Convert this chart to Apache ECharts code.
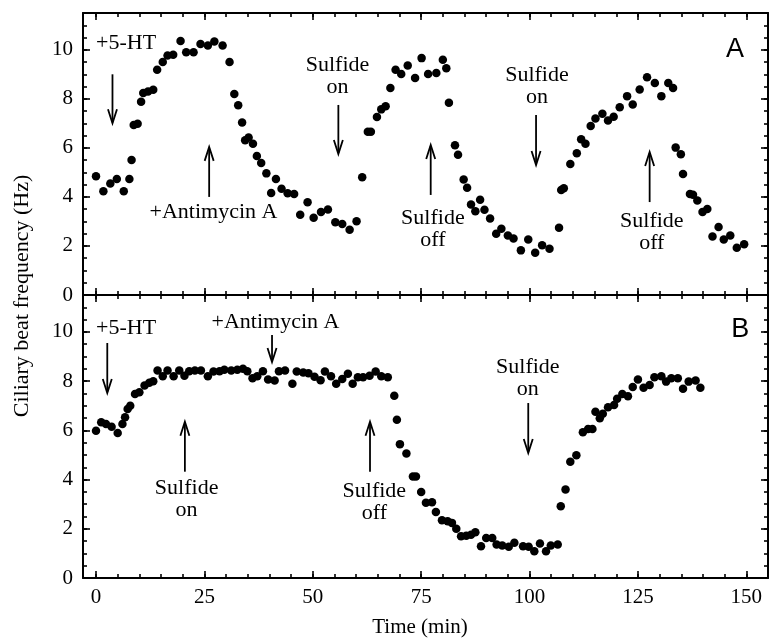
<!DOCTYPE html>
<html>
<head>
<meta charset="utf-8">
<script src="https://cdn.jsdelivr.net/npm/echarts@6/dist/echarts.min.js"></script>
<style>
html,body{margin:0;padding:0;background:#fff;}
#chart{width:776px;height:640px;}
</style>
</head>
<body>
<div id="chart"></div>
<script>
// ---- Data ----
const timeA = [0,1.7,3.3,4.8,6.4,7.7,8.2,8.7,9.6,10.4,10.9,12.0,13.2,14.1,15.4,16.5,17.8,19.5,20.8,22.5,24.1,25.8,27.3,29.2,30.8,31.9,32.8,33.7,34.4,35.2,36.2,37.1,38.1,39.3,40.4,41.5,42.8,44.2,45.7,47.1,48.8,50.2,51.9,53.5,55.2,56.8,58.5,60.1,61.4,62.7,63.4,64.8,65.8,66.8,67.9,69.1,70.4,71.9,73.6,75.1,76.6,78.5,80.0,80.8,81.4,82.8,83.5,84.8,85.6,86.5,87.5,88.6,89.6,90.9,92.3,93.5,95.0,96.3,98.0,99.7,101.3,102.9,104.6,106.8,107.3,107.9,109.4,110.9,111.9,112.9,114.1,115.2,116.8,118.1,119.4,120.8,122.5,123.8,125.4,127.1,128.9,130.4,132.0,133.1,133.7,134.9,135.4,137.0,137.7,138.7,139.9,141.0,142.2,143.6,144.8,146.3,147.8,149.5];
const freqA = [4.84,4.23,4.55,4.73,4.23,4.73,5.51,6.93,6.98,7.88,8.24,8.30,8.37,9.19,9.50,9.77,9.80,10.36,9.90,9.90,10.24,10.17,10.34,10.17,9.50,8.20,7.74,7.03,6.31,6.42,6.17,5.67,5.38,4.96,4.16,4.73,4.33,4.15,4.12,3.27,3.78,3.15,3.38,3.49,2.97,2.90,2.66,3.01,4.80,6.66,6.66,7.26,7.57,7.70,8.44,9.19,9.01,9.36,8.85,9.66,9.01,9.05,9.59,9.25,7.84,6.11,5.72,4.71,4.37,3.69,3.42,3.88,3.48,3.12,2.50,2.70,2.43,2.30,1.82,2.26,1.72,2.03,1.89,2.74,4.28,4.35,5.34,5.78,6.35,6.17,6.89,7.20,7.39,7.12,7.27,7.66,8.11,7.77,8.38,8.88,8.65,8.11,8.65,8.44,6.01,5.74,4.93,4.12,4.09,3.85,3.38,3.51,2.39,2.77,2.26,2.43,1.93,2.07];

const timeB = [0,1.2,2.3,3.6,5.0,6.1,6.7,7.3,7.9,9.0,10.0,11.2,12.3,13.2,14.2,15.4,16.5,17.9,19.2,20.4,21.5,22.8,24.2,25.8,27.1,28.5,29.6,31.2,32.6,33.9,34.9,36.1,37.2,38.5,39.7,41.2,42.2,43.6,45.3,46.3,47.8,49.0,50.4,51.8,52.8,54.2,55.4,56.8,58.1,59.2,60.4,61.6,63.1,64.5,65.8,67.3,68.8,69.4,70.1,71.6,73.1,73.8,75.0,76.1,77.5,78.4,79.8,81.1,82.1,83.1,84.2,85.4,86.5,87.5,88.8,90.0,91.4,92.4,93.7,95.2,96.5,98.5,99.8,101.1,102.4,103.8,104.9,106.5,107.2,108.3,109.4,110.8,112.3,113.5,114.5,115.2,116.2,116.9,118.1,119.5,120.2,121.4,122.7,123.8,125.0,126.3,127.7,128.8,130.4,131.5,132.7,134.2,135.4,136.7,138.3,139.4];
const freqB = [5.98,6.33,6.26,6.15,5.89,6.26,6.53,6.87,7.00,7.48,7.55,7.82,7.93,8.00,8.43,8.20,8.43,8.20,8.43,8.22,8.40,8.43,8.43,8.20,8.39,8.40,8.46,8.43,8.46,8.50,8.40,8.12,8.20,8.40,8.07,8.03,8.40,8.43,7.89,8.39,8.35,8.32,8.18,8.04,8.39,8.20,7.89,8.09,8.30,7.89,8.16,8.16,8.22,8.39,8.20,8.16,7.41,6.43,5.44,5.06,4.12,4.12,3.49,3.06,3.08,2.68,2.35,2.31,2.24,2.00,1.70,1.72,1.76,1.86,1.29,1.63,1.63,1.36,1.32,1.27,1.43,1.29,1.27,1.09,1.40,1.09,1.32,1.36,2.92,3.60,4.72,4.99,5.92,6.05,6.05,6.76,6.49,6.67,6.94,7.03,7.28,7.48,7.39,7.76,8.07,7.73,7.84,8.16,8.20,7.98,8.12,8.12,7.69,7.98,8.03,7.73];

const xTicks = [0,25,50,75,100,125,150];
const xMinorTicks = [0,5,10,15,20,25,30,35,40,45,50,55,60,65,70,75,80,85,90,95,100,105,110,115,120,125,130,135,140,145,150,155];
const yTicks = [0,2,4,6,8,10];
const yMinorTicks = [0,0.5,1,1.5,2,2.5,3,3.5,4,4.5,5,5.5,6,6.5,7,7.5,8,8.5,9,9.5,10,10.5,11,11.5];

// annotations in data coordinates: [t, v, text, align]
const textsA = [
  [0.0, 10.28, '+5-HT', 'left'],
  [27.1, 3.38, '+Antimycin A', 'center'],
  [55.7, 8.93, 'Sulfide\non', 'center'],
  [77.7, 2.67, 'Sulfide\noff', 'center'],
  [101.7, 8.5, 'Sulfide\non', 'center'],
  [128.2, 2.57, 'Sulfide\noff', 'center']
];
const arrowsA = [ // [t, vFrom, vTo]
  [3.8, 9.0, 7.0],
  [26.1, 4.0, 6.04],
  [55.9, 7.75, 5.75],
  [77.2, 4.08, 6.12],
  [101.5, 7.34, 5.30],
  [127.7, 3.79, 5.83]
];
const textsB = [
  [0.0, 10.16, '+5-HT', 'left'],
  [41.4, 10.4, '+Antimycin A', 'center'],
  [20.9, 3.21, 'Sulfide\non', 'center'],
  [64.2, 3.09, 'Sulfide\noff', 'center'],
  [99.6, 8.13, 'Sulfide\non', 'center']
];
const arrowsB = [
  [2.6, 9.55, 7.52],
  [40.6, 9.87, 8.78],
  [20.5, 4.32, 6.35],
  [63.2, 4.32, 6.35],
  [99.7, 7.11, 5.08]
];

// ---- Chart ----
const SERIF = '"Liberation Serif","Times New Roman",serif';
const chart = echarts.init(document.getElementById('chart'), null, {renderer:'canvas'});

function xAxisSet(grid, showLabels) {
  const base = {type:'value', gridIndex:grid, min:-3, max:155, splitLine:{show:false}};
  const line = {show:true, onZero:false, lineStyle:{color:'#000', width:2}};
  return [
    Object.assign({}, base, {position:'bottom', axisLine:line,
      axisTick:{show:true, inside:true, length:7, customValues:xTicks, lineStyle:{color:'#000', width:1.6}},
      axisLabel:{show:showLabels, customValues:xTicks, color:'#000', fontFamily:SERIF, fontSize:21, margin:9}}),
    Object.assign({}, base, {position:'bottom', axisLine:{show:false, onZero:false},
      axisTick:{show:true, inside:true, length:4, customValues:xMinorTicks, lineStyle:{color:'#000', width:1.6}},
      axisLabel:{show:false}}),
    Object.assign({}, base, {position:'top', axisLine:line,
      axisTick:{show:true, inside:true, length:7, customValues:xTicks, lineStyle:{color:'#000', width:1.6}},
      axisLabel:{show:false}}),
    Object.assign({}, base, {position:'top', axisLine:{show:false, onZero:false},
      axisTick:{show:true, inside:true, length:4, customValues:xMinorTicks, lineStyle:{color:'#000', width:1.6}},
      axisLabel:{show:false}})
  ];
}
function yAxisSet(grid) {
  const base = {type:'value', gridIndex:grid, min:0, max:11.5, splitLine:{show:false}};
  const line = {show:true, onZero:false, lineStyle:{color:'#000', width:2}};
  return [
    Object.assign({}, base, {position:'left', axisLine:line,
      axisTick:{show:true, inside:true, length:7, customValues:yTicks, lineStyle:{color:'#000', width:1.6}},
      axisLabel:{show:true, customValues:yTicks, color:'#000', fontFamily:SERIF, fontSize:21, margin:10}}),
    Object.assign({}, base, {position:'left', axisLine:{show:false, onZero:false},
      axisTick:{show:true, inside:true, length:4, customValues:yMinorTicks, lineStyle:{color:'#000', width:1.6}},
      axisLabel:{show:false}}),
    Object.assign({}, base, {position:'right', axisLine:line,
      axisTick:{show:true, inside:true, length:7, customValues:yTicks, lineStyle:{color:'#000', width:1.6}},
      axisLabel:{show:false}}),
    Object.assign({}, base, {position:'right', axisLine:{show:false, onZero:false},
      axisTick:{show:true, inside:true, length:4, customValues:yMinorTicks, lineStyle:{color:'#000', width:1.6}},
      axisLabel:{show:false}})
  ];
}

const option = {
  animation:false,
  backgroundColor:'#fff',
  grid:[
    {left:83, right:8, top:13, height:282},
    {left:83, right:8, top:295, height:283}
  ],
  xAxis: xAxisSet(0, false).concat(xAxisSet(1, true)),
  yAxis: yAxisSet(0).concat(yAxisSet(1)),
  series:[
    {type:'scatter', xAxisIndex:0, yAxisIndex:0, symbol:'circle', symbolSize:8.5,
     itemStyle:{color:'#000', opacity:1}, data: timeA.map((t,i)=>[t, freqA[i]])},
    {type:'scatter', xAxisIndex:4, yAxisIndex:4, symbol:'circle', symbolSize:8.5,
     itemStyle:{color:'#000', opacity:1}, data: timeB.map((t,i)=>[t, freqB[i]])}
  ]
};
chart.setOption(option);

// ---- Annotations placed through the axes ----
const graphics = [];
function addTexts(list, xi, yi) {
  list.forEach(([t, v, txt, align]) => {
    const p = chart.convertToPixel({xAxisIndex:xi, yAxisIndex:yi}, [t, v]);
    graphics.push({type:'text', z:10, style:{text:txt, x:p[0], y:p[1], fill:'#000',
      fontFamily:SERIF, fontSize:22, lineHeight:22, align:align, verticalAlign:'middle'}});
  });
}
function addArrows(list, xi, yi) {
  list.forEach(([t, v0, v1]) => {
    const a = chart.convertToPixel({xAxisIndex:xi, yAxisIndex:yi}, [t, v0]);
    const b = chart.convertToPixel({xAxisIndex:xi, yAxisIndex:yi}, [t, v1]);
    const dir = b[1] > a[1] ? 1 : -1; // 1 = pointing down
    graphics.push({type:'polyline', z:10, shape:{points:[[a[0], a[1]], [b[0], b[1] - dir*1]]},
      style:{stroke:'#000', lineWidth:1.8, fill:null}});
    graphics.push({type:'polyline', z:10, shape:{points:[[b[0]-4.5, b[1]-dir*14], [b[0], b[1]], [b[0]+4.5, b[1]-dir*14]]},
      style:{stroke:'#000', lineWidth:1.8, fill:null, lineJoin:'miter'}});
  });
}
addTexts(textsA, 0, 0);
addArrows(arrowsA, 0, 0);
addTexts(textsB, 4, 4);
addArrows(arrowsB, 4, 4);

const pA = chart.convertToPixel({xAxisIndex:0, yAxisIndex:0}, [147.4, 10.03]);
const pB = chart.convertToPixel({xAxisIndex:4, yAxisIndex:4}, [148.6, 10.08]);
graphics.push({type:'text', z:10, style:{text:'A', x:pA[0], y:pA[1], fill:'#000', fontFamily:'"Liberation Sans",Arial,sans-serif', fontSize:27, align:'center', verticalAlign:'middle'}});
graphics.push({type:'text', z:10, style:{text:'B', x:pB[0], y:pB[1], fill:'#000', fontFamily:'"Liberation Sans",Arial,sans-serif', fontSize:27, align:'center', verticalAlign:'middle'}});

// axis titles
graphics.push({type:'text', z:10, x:22, y:296, rotation:Math.PI/2,
  style:{text:'Ciliary beat frequency (Hz)', x:0, y:0, fill:'#000', fontFamily:SERIF, fontSize:22, align:'center', verticalAlign:'middle'}});
graphics.push({type:'text', z:10, style:{text:'Time (min)', x:420, y:627, fill:'#000', fontFamily:SERIF, fontSize:21, align:'center', verticalAlign:'middle'}});

chart.setOption({graphic: graphics});
</script>
</body>
</html>
